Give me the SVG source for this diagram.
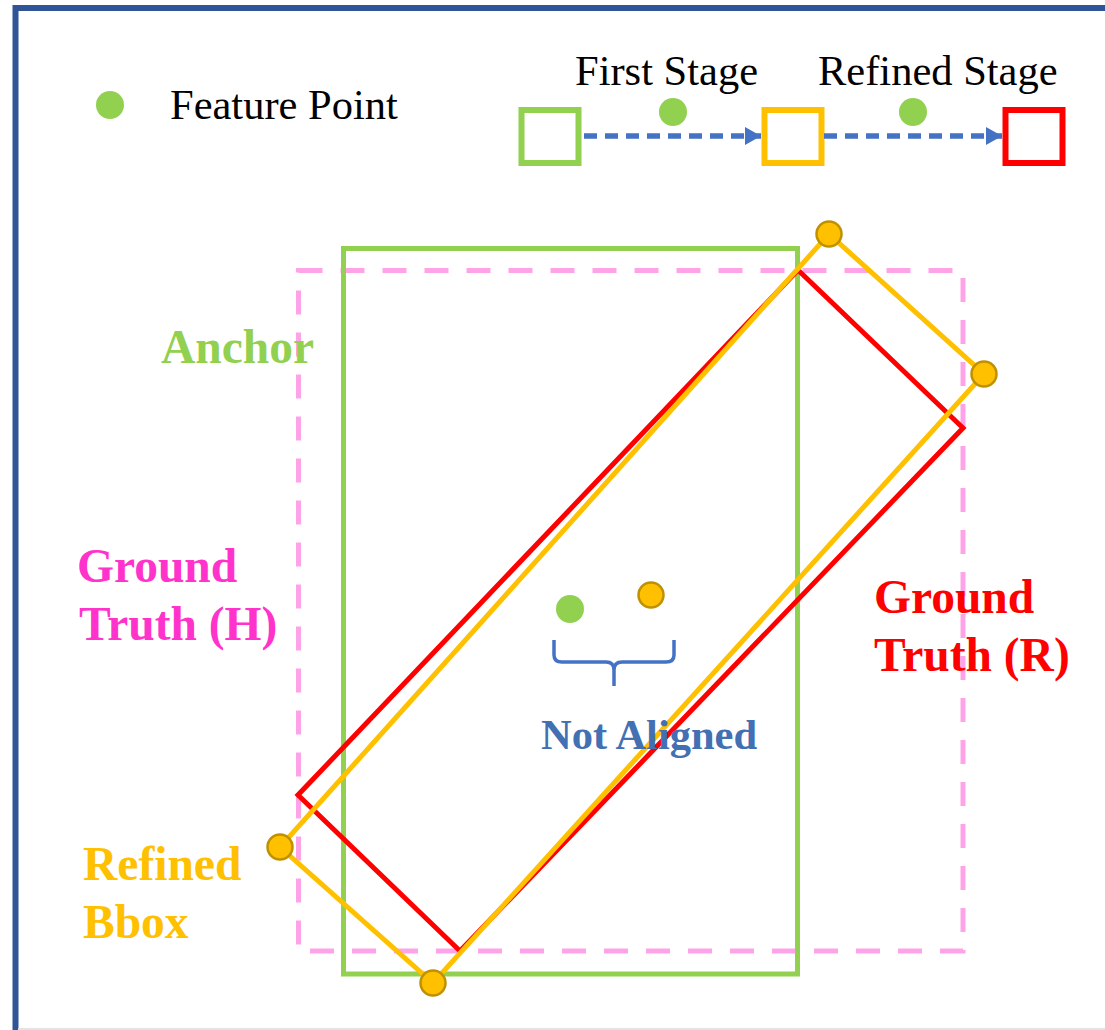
<svg xmlns="http://www.w3.org/2000/svg" width="1105" height="1030" viewBox="0 0 1105 1030">
  <defs>
    <style>
      .serif { font-family: "Liberation Serif", "Times New Roman", serif; }
      .legend-text { font-size: 42.5px; fill: #000000; }
      .label { font-size: 47.5px; font-weight: bold; }
      .box { fill: none; stroke-width: 6; }
      .flow { fill: none; stroke: #4472C4; stroke-width: 5.5; stroke-dasharray: 13 8; }
      .corner { fill: #FFC000; stroke: #BF9000; stroke-width: 2.5; }
      .feature { fill: #92D050; }
    </style>
    <marker id="arrow" viewBox="0 0 16 18" refX="16" refY="9" markerWidth="16" markerHeight="18" markerUnits="userSpaceOnUse" orient="auto">
      <path d="M0,0 L16,9 L0,18 Z" fill="#4472C4"/>
    </marker>
  </defs>

  <rect width="1105" height="1030" fill="#FFFFFF"/>

  <!-- outer frame -->
  <rect x="15.5" y="8" width="1200" height="1100" fill="none" stroke="#2F5597" stroke-width="6"/>
  <line x1="18" y1="1029" x2="1105" y2="1029" stroke="#E3E3E3" stroke-width="2"/>

  <!-- legend: feature point -->
  <g id="legend-feature">
    <circle class="feature" cx="110" cy="105" r="14"/>
    <text class="serif legend-text" x="170" y="119">Feature Point</text>
  </g>

  <!-- legend: stage flow -->
  <g id="legend-anchor-box">
    <rect class="box" x="521.5" y="110" width="57" height="53" stroke="#92D050"/>
  </g>
  <g id="legend-refined-box">
    <rect class="box" x="764.5" y="110" width="57" height="53" stroke="#FFC000"/>
  </g>
  <g id="legend-final-box">
    <rect class="box" x="1005.5" y="110" width="57" height="53" stroke="#FF0000"/>
  </g>
  <g id="legend-labels">
    <text class="serif legend-text" x="575" y="85">First Stage</text>
    <text class="serif legend-text" x="818" y="85">Refined Stage</text>
    <circle class="feature" cx="673" cy="112" r="14"/>
    <circle class="feature" cx="913" cy="112" r="14"/>
  </g>

  <g id="connectors">
    <line class="flow" x1="584" y1="136" x2="761" y2="136" marker-end="url(#arrow)"/>
    <line class="flow" x1="824" y1="136" x2="1002" y2="136" marker-end="url(#arrow)"/>
  </g>

  <!-- horizontal ground truth box -->
  <g id="gt-horizontal">
    <rect x="298.5" y="270.5" width="664.5" height="680.5" fill="none" stroke="#FFA3E8" stroke-width="5" stroke-dasharray="24 18"/>
  </g>

  <!-- anchor box -->
  <g id="anchor">
    <rect x="343.5" y="248.5" width="454" height="725.5" fill="none" stroke="#92D050" stroke-width="5"/>
  </g>

  <!-- rotated ground truth box -->
  <g id="gt-rotated">
    <polygon points="798,270 963,428 460,951 298,795" fill="none" stroke="#FF0000" stroke-width="5" stroke-linejoin="miter"/>
  </g>

  <!-- refined rotated box with its corner points -->
  <g id="refined-bbox">
    <polygon points="829,234 984,374 433,983 280,847" fill="none" stroke="#FFC000" stroke-width="5"/>
    <circle class="corner" cx="829" cy="234" r="12.5"/>
    <circle class="corner" cx="984" cy="374" r="12.5"/>
    <circle class="corner" cx="433" cy="983" r="12.5"/>
    <circle class="corner" cx="280" cy="847" r="12.5"/>
  </g>

  <!-- centre points and brace -->
  <g id="not-aligned">
    <circle class="feature" cx="570" cy="609" r="14"/>
    <circle class="corner" cx="651" cy="595" r="12.5"/>
    <path d="M554,640 L554,655 Q554,662 562,662 L606,662 Q614,662 614,670 L614,686 M614,670 Q614,662 622,662 L666,662 Q674,662 674,655 L674,640" fill="none" stroke="#4472C4" stroke-width="3.5"/>
    <text class="serif" x="541" y="749" font-size="42.5" font-weight="bold" fill="#4370B2">Not Aligned</text>
  </g>

  <!-- side labels -->
  <g id="label-anchor">
    <text class="serif label" x="161" y="363" fill="#92D050">Anchor</text>
  </g>
  <g id="label-gt-h">
    <text class="serif label" x="77" y="582" fill="#FF33CC">Ground</text>
    <text class="serif label" x="79" y="640" fill="#FF33CC">Truth (H)</text>
  </g>
  <g id="label-gt-r">
    <text class="serif label" x="874" y="613" fill="#FF0000">Ground</text>
    <text class="serif label" x="874" y="671" fill="#FF0000">Truth (R)</text>
  </g>
  <g id="label-refined">
    <text class="serif label" x="83" y="880" fill="#FFC000">Refined</text>
    <text class="serif label" x="83" y="938" fill="#FFC000">Bbox</text>
  </g>
</svg>
